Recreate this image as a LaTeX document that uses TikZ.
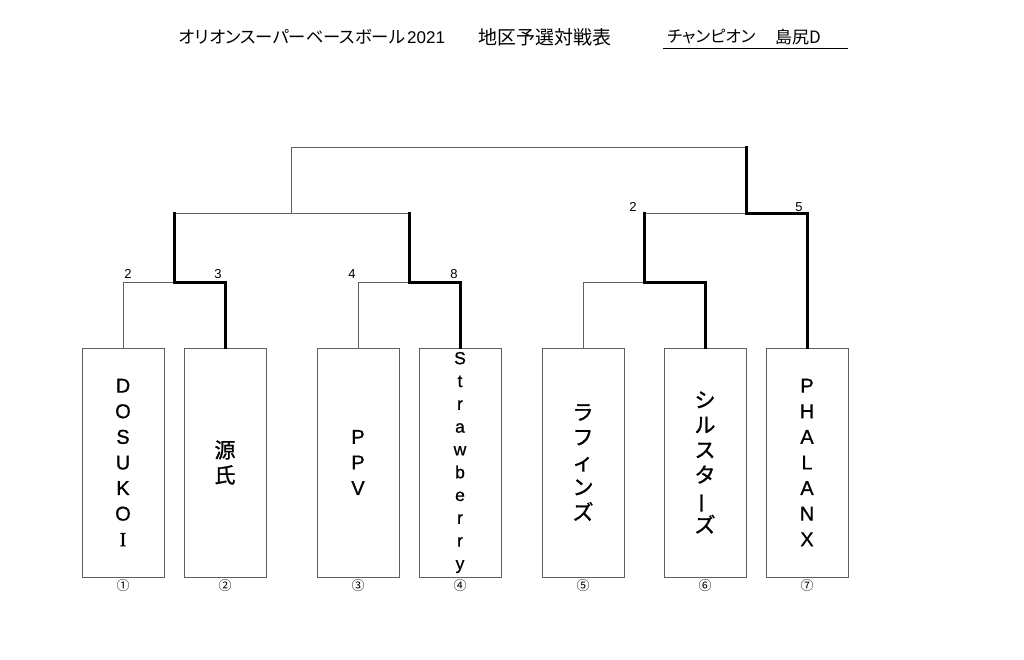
\documentclass[tikz,border=0pt]{standalone}
\usepackage{fontspec}
\usepackage{graphicx}
\setmainfont{Liberation Sans}
\newfontfamily\jp{Noto Sans CJK JP}
\newfontfamily\jpb{Noto Sans CJK JP}[FakeBold=1.2]
\newfontfamily\lb{Liberation Sans}[FakeBold=0.8]
\newfontfamily\jpp{Noto Sans CJK JP}[RawFeature=+palt]
\newfontfamily\serifI{Liberation Serif}[FakeBold=1.2]
\definecolor{thinc}{RGB}{95,95,95}
\tikzset{
  team/.style={draw=thinc, line width=1pt, minimum width=82pt, minimum height=229pt, inner sep=0pt, fill=white},
  vtext/.style={align=center, inner sep=0pt, font=\lb\fontsize{20}{25.6}\selectfont},
  vjp/.style={align=center, inner sep=0pt, font=\jpb\fontsize{21}{25}\selectfont},
  thin/.style={draw=thinc, line width=1pt},
  win/.style={draw=black, line width=3pt, line cap=rect, line join=miter},
  score/.style={font=\fontsize{13}{13}\selectfont, inner sep=0pt},
  seed/.style={font=\jp\fontsize{13}{13}\selectfont, inner sep=0pt},
}
\begin{document}
\begin{tikzpicture}[x=1pt,y=-1pt]
\path[use as bounding box, fill=white] (0,0) rectangle (1024,660);

% title
\node[anchor=west, inner sep=0pt, font=\jpp\fontsize{17.3}{19}\selectfont] (t1) at (179,37) {オリオンスーパーベースボール};
\node[anchor=base west, inner sep=0pt, font=\fontsize{17}{17}\selectfont] (t3) at ([xshift=1.5pt]t1.base east) {2021};
\node[anchor=west, inner sep=0pt, font=\jp\fontsize{19}{19}\selectfont] (t2) at (478,37) {地区予選対戦表};
\node[anchor=west, inner sep=0pt, font=\jpp\fontsize{16.5}{17}\selectfont] (c1) at (667,37) {チャンピオン};
\node[anchor=west, inner sep=0pt, font=\jp\fontsize{17}{17}\selectfont] (c2) at (775,37) {島尻D};
\coordinate (u1) at (663,49);
\coordinate (u2) at (848,49);
\draw[black, line width=1pt] (u1) -- (u2);

% team boxes
\node[team] (b1) at (123,462.5) {};
\node[team] (b2) at (225,462.5) {};
\node[team] (b3) at (358,462.5) {};
\node[team] (b4) at (460,462.5) {};
\node[team] (b5) at (583,462.5) {};
\node[team] (b6) at (705,462.5) {};
\node[team] (b7) at (807,462.5) {};

\node[vtext] (n1) at (b1) {D\\O\\S\\U\\K\\O\\{\serifI I}};
\node[vjp] (n2) at (b2) {源\\氏};
\node[vtext] (n3) at (b3) {P\\P\\V};
\node[vtext, font=\lb\fontsize{17.5}{22.8}\selectfont] (n4) at (b4) {S\\t\\r\\a\\w\\b\\e\\r\\r\\y};
\node[vjp] (n5) at (b5) {ラ\\フ\\ィ\\ン\\ズ};
\node[vjp] (n6) at (b6) {シ\\ル\\ス\\タ\\\rotatebox[origin=c]{90}{ー}\\ズ};
\node[vtext] (n7) at (b7) {P\\H\\A\\L\\A\\N\\X};

% seeds
\node[seed] (s1) at (123,586) {①};
\node[seed] (s2) at (225,586) {②};
\node[seed] (s3) at (358,586) {③};
\node[seed] (s4) at (460,586) {④};
\node[seed] (s5) at (583,586) {⑤};
\node[seed] (s6) at (705,586) {⑥};
\node[seed] (s7) at (807,586) {⑦};

% bracket junctions
\coordinate (j1) at (174,282);
\coordinate (j2) at (409,282);
\coordinate (j3) at (644,282);
\coordinate (L1) at (174,214);
\coordinate (L2) at (409,214);
\coordinate (M) at (291,214);
\coordinate (R1) at (644,214);
\coordinate (R2) at (746,214);
\coordinate (T2) at (746,148);

\draw[thin] (b1.north) |- (j1);
\draw[thin] (b3.north) |- (j2);
\draw[thin] (L1) -- (L2);
\draw[thin] (M) |- (T2);
\draw[thin] (b5.north) |- (j3);
\draw[thin] (R1) -- (R2);

\draw[win] (b2.north) |- (j1) -- (L1);
\draw[win] (b4.north) |- (j2) -- (L2);
\draw[win] (b6.north) |- (j3) -- (R1);
\draw[win] (b7.north) |- (R2) -- (T2);

% scores
\node[score] (p1) at (128,274) {2};
\node[score] (p2) at (218,274) {3};
\node[score] (p3) at (352,274) {4};
\node[score] (p4) at (454,274) {8};
\node[score] (p5) at (633,207) {2};
\node[score] (p6) at (799,207) {5};
\end{tikzpicture}
\end{document}
